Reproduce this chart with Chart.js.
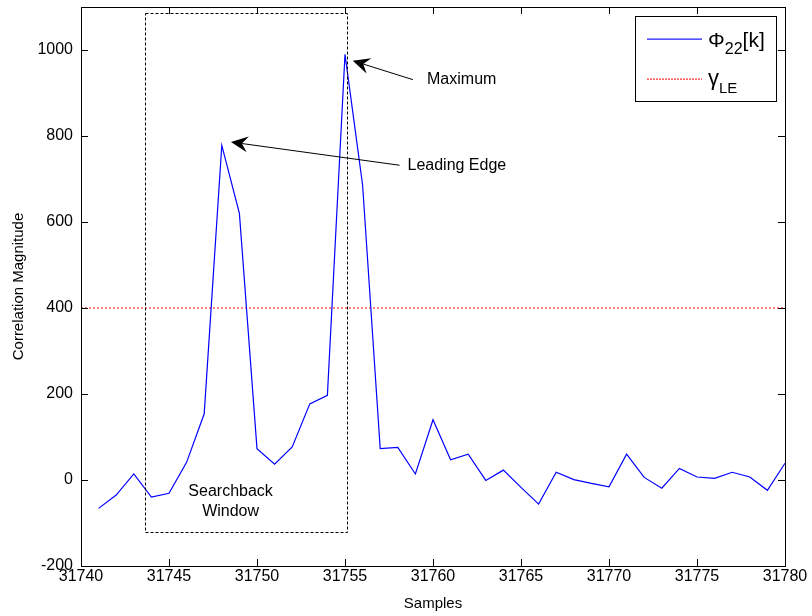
<!DOCTYPE html>
<html>
<head>
<meta charset="utf-8">
<script src="https://cdn.jsdelivr.net/npm/chart.js@4"></script>
<style>
  html, body { margin: 0; padding: 0; background: #fff; }
  #wrap { width: 812px; height: 616px; }
</style>
</head>
<body>
<div id="wrap"><canvas id="corrChart" width="812" height="616"></canvas></div>
<script>
// Correlation magnitude per sample
const samples = [
  31741, 31742, 31743, 31744, 31745, 31746, 31747, 31748, 31749, 31750,
  31751, 31752, 31753, 31754, 31755, 31756, 31757, 31758, 31759, 31760,
  31761, 31762, 31763, 31764, 31765, 31766, 31767, 31768, 31769, 31770,
  31771, 31772, 31773, 31774, 31775, 31776, 31777, 31778, 31779, 31780
];
const magnitude = [
  -66, -35, 14, -40, -31, 41, 154, 778, 620, 73,
  37, 77, 177, 197, 990, 686, 73, 76, 14, 140,
  47, 60, -1, 23, -17, -56, 18, 1, -8, -16,
  60, 6, -19, 27, 7, 4, 18, 7, -24, 39
];
const threshold = 400;
const thresholdX = [31740, 31780];

const xTicks = [31740, 31745, 31750, 31755, 31760, 31765, 31770, 31775, 31780];
const yTicks = [-200, 0, 200, 400, 600, 800, 1000];

// annotations (data coordinates)
const windowX = [31743.65, 31755.1];
const windowY = [-120, 1085];
const windowLabel = ['Searchback', 'Window'];
const windowLabelY = [-28, -73];
const maxArrow = [31758.86, 931, 31755.44, 975];      // tail x, tail y, tip x, tip y
const edgeArrow = [31758.1, 732, 31748.52, 786];
const maxLabel = ['Maximum', 31759.66, 931];
const edgeLabel = ['Leading Edge', 31758.55, 732];

const FONT = '"Liberation Sans", Arial, Helvetica, sans-serif';

function drawArrow(ctx, x0, y0, x1, y1) {
  const ang = Math.atan2(y1 - y0, x1 - x0);
  const dx = Math.cos(ang), dy = Math.sin(ang);
  const L = 17, W = 8, N = 11;
  ctx.beginPath();
  ctx.moveTo(x0, y0);
  ctx.lineTo(x1 - dx * N, y1 - dy * N);
  ctx.stroke();
  ctx.beginPath();
  ctx.moveTo(x1, y1);
  ctx.lineTo(x1 - dx * L - dy * W, y1 - dy * L + dx * W);
  ctx.lineTo(x1 - dx * N, y1 - dy * N);
  ctx.lineTo(x1 - dx * L + dy * W, y1 - dy * L - dx * W);
  ctx.closePath();
  ctx.fill();
}

const decorPlugin = {
  id: 'decor',
  afterDatasetsDraw(chart) {
    const {ctx, chartArea: a, scales: {x, y}} = chart;
    ctx.save();

    // frame + inward ticks
    ctx.strokeStyle = '#000';
    ctx.lineWidth = 1;
    ctx.strokeRect(Math.round(a.left) + 0.5, Math.round(a.top) + 0.5,
      Math.round(a.right - a.left), Math.round(a.bottom - a.top));
    ctx.beginPath();
    xTicks.forEach(v => {
      const px = Math.round(x.getPixelForValue(v)) + 0.5;
      ctx.moveTo(px, a.bottom); ctx.lineTo(px, a.bottom - 7);
      ctx.moveTo(px, a.top); ctx.lineTo(px, a.top + 7);
    });
    yTicks.forEach(v => {
      const py = Math.round(y.getPixelForValue(v)) + 0.5;
      ctx.moveTo(a.left, py); ctx.lineTo(a.left + 7, py);
      ctx.moveTo(a.right, py); ctx.lineTo(a.right - 7, py);
    });
    ctx.stroke();

    // searchback window
    ctx.setLineDash([3, 2]);
    const bx0 = Math.round(x.getPixelForValue(windowX[0])) + 0.5;
    const bx1 = Math.round(x.getPixelForValue(windowX[1])) + 0.5;
    const by0 = Math.round(y.getPixelForValue(windowY[1])) + 0.5;
    const by1 = Math.round(y.getPixelForValue(windowY[0])) + 0.5;
    ctx.strokeRect(bx0, by0, bx1 - bx0, by1 - by0);
    ctx.setLineDash([]);

    // arrows
    ctx.fillStyle = '#000';
    [maxArrow, edgeArrow].forEach(ar => {
      drawArrow(ctx, x.getPixelForValue(ar[0]), y.getPixelForValue(ar[1]),
        x.getPixelForValue(ar[2]), y.getPixelForValue(ar[3]));
    });

    // text annotations
    ctx.font = '16px ' + FONT;
    ctx.textBaseline = 'middle';
    ctx.textAlign = 'left';
    [maxLabel, edgeLabel].forEach(l => {
      ctx.fillText(l[0], x.getPixelForValue(l[1]), y.getPixelForValue(l[2]));
    });
    ctx.textAlign = 'center';
    const wx = x.getPixelForValue(31748.5);
    windowLabel.forEach((t, i) => ctx.fillText(t, wx, y.getPixelForValue(windowLabelY[i])));

    // axis titles
    ctx.font = '15px ' + FONT;
    ctx.fillText('Samples', (a.left + a.right) / 2, 604);
    ctx.save();
    ctx.translate(19, (a.top + a.bottom) / 2);
    ctx.rotate(-Math.PI / 2);
    ctx.fillText('Correlation Magnitude', 0, 0);
    ctx.restore();

    // legend
    ctx.fillStyle = '#fff';
    ctx.fillRect(635, 16, 141, 85);
    ctx.strokeStyle = '#000';
    ctx.strokeRect(635.5, 16.5, 141, 85);
    ctx.lineWidth = 1.2;
    ctx.strokeStyle = '#1a1aff';
    ctx.beginPath(); ctx.moveTo(647, 39.2); ctx.lineTo(702, 39.2); ctx.stroke();
    ctx.strokeStyle = '#ff3030';
    ctx.setLineDash([2, 1]);
    ctx.beginPath(); ctx.moveTo(647, 79.2); ctx.lineTo(702, 79.2); ctx.stroke();
    ctx.setLineDash([]);
    ctx.lineWidth = 1;
    ctx.fillStyle = '#000';
    ctx.textAlign = 'left';
    ctx.textBaseline = 'alphabetic';
    ctx.font = '21px ' + FONT;
    ctx.fillText('\u03A6', 708, 47);
    let w = ctx.measureText('\u03A6').width;
    ctx.font = '16px ' + FONT;
    ctx.fillText('22', 708 + w, 54);
    w += ctx.measureText('22').width;
    ctx.font = '21px ' + FONT;
    ctx.fillText('[k]', 708 + w, 47);
    ctx.font = '22px ' + FONT;
    ctx.fillText('\u03B3', 708, 85);
    w = ctx.measureText('\u03B3').width;
    ctx.font = '15px ' + FONT;
    ctx.fillText('LE', 708 + w, 93);

    ctx.restore();
  }
};

const ctx = document.getElementById('corrChart').getContext('2d');

new Chart(ctx, {
  type: 'line',
  data: {
    datasets: [
      {
        label: 'Phi22[k]',
        data: samples.map((s, i) => ({x: s, y: magnitude[i]})),
        borderColor: '#0000ff',
        borderWidth: 1.2,
        pointRadius: 0,
        tension: 0
      },
      {
        label: 'gamma LE',
        data: thresholdX.map(s => ({x: s, y: threshold})),
        borderColor: '#ff0000',
        borderWidth: 1,
        borderDash: [2, 2],
        pointRadius: 0
      }
    ]
  },
  options: {
    responsive: false,
    animation: false,
    devicePixelRatio: 1,
    layout: { padding: { left: 0, top: 7, right: 27, bottom: 0 } },
    plugins: {
      legend: { display: false },
      tooltip: { enabled: false }
    },
    scales: {
      x: {
        type: 'linear',
        min: 31740,
        max: 31780,
        afterFit: s => { s.height = 50; s.paddingLeft = 0; s.paddingRight = 0; },
        afterBuildTicks: s => { s.ticks = xTicks.map(v => ({value: v})); },
        grid: { display: false, drawTicks: false },
        border: { display: false },
        ticks: {
          color: '#000',
          padding: 1,
          maxRotation: 0,
          autoSkip: false,
          font: { family: FONT, size: 16 },
          callback: v => String(v)
        }
      },
      y: {
        type: 'linear',
        min: -200,
        max: 1100,
        afterFit: s => { s.width = 81; s.paddingTop = 0; s.paddingBottom = 0; },
        afterBuildTicks: s => { s.ticks = yTicks.map(v => ({value: v})); },
        grid: { display: false, drawTicks: false },
        border: { display: false },
        ticks: {
          color: '#000',
          padding: 8,
          autoSkip: false,
          font: { family: FONT, size: 16 },
          callback: v => String(v)
        }
      }
    }
  },
  plugins: [decorPlugin]
});
</script>
</body>
</html>
